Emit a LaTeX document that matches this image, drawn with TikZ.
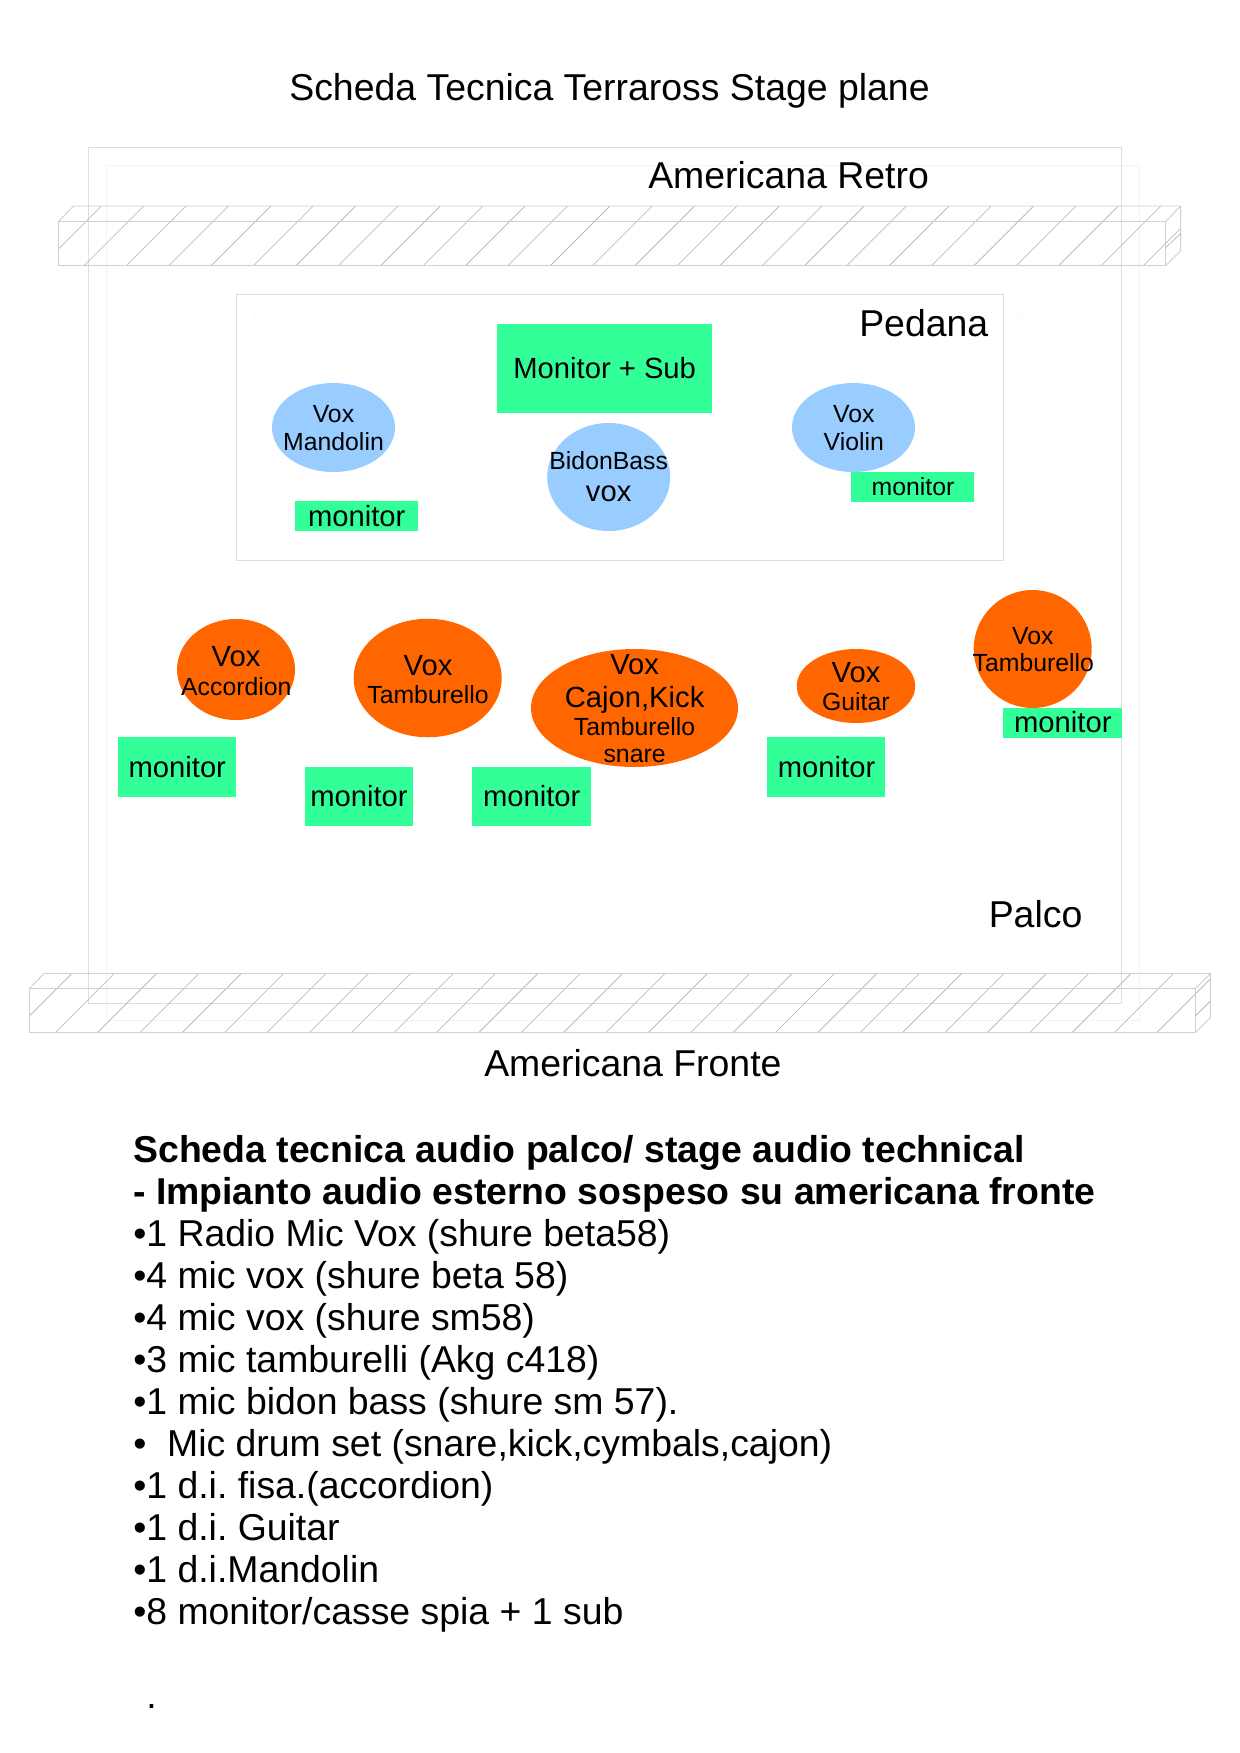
\documentclass[tikz,border=0pt]{standalone}
\usepackage{fontspec}
\setmainfont{Liberation Sans}
\usetikzlibrary{shapes.geometric}
\definecolor{greenbox}{HTML}{33FF99}
\definecolor{bluevox}{HTML}{99CCFF}
\definecolor{orangevox}{HTML}{FF6600}
\definecolor{frameline}{HTML}{DEDEDE}
\definecolor{frameshadow}{HTML}{F3F3F3}
\definecolor{pedshadow}{HTML}{FBFBFB}
\definecolor{barline}{HTML}{D0D0D0}
\definecolor{hatchline}{HTML}{B0B0B0}
\frenchspacing
\tikzset{
  big/.style={font=\fontsize{28.05}{31}\selectfont},
  mid/.style={font=\fontsize{21.9}{25}\selectfont},
  small/.style={font=\fontsize{18.6}{21}\selectfont},
  txt/.style={anchor=base,inner sep=0pt,text=black},
  ltxt/.style={anchor=base west,inner sep=0pt,text=black},
  sized/.style 2 args={minimum width=#1*0.75pt,minimum height=#2*0.75pt,inner sep=0pt,outer sep=0pt},
  greenblock/.style={rectangle,fill=greenbox,draw=none},
  bluevoice/.style={ellipse,fill=bluevox,draw=none},
  orangevoice/.style={ellipse,fill=orangevox,draw=none},
  outerframe/.style={draw=frameline,line width=0.75pt},
  shadowframe/.style={draw=frameshadow,line width=0.75pt},
  barface/.style={draw=barline,line width=0.7pt,line join=miter},
  hatching/.style={draw=hatchline,line width=0.45pt},
}
\newcommand{\barfigure}[7]{% left back-left right-front back-right top-back top-front bottom-front
  \begin{scope}
    \clip (#1,#7) -- (#1,#6) -- (#2,#5) -- (#4,#5) -- ({#4},{#7-15}) -- (#3,#7) -- cycle;
    \foreach \k in {-1,...,27}{
      \draw[hatching] ({\hatchstart+42.37*\k},#7) -- ({\hatchstart+42.37*\k+70},{#7-70});
    }
  \end{scope}
  \draw[barface] (#1,#6) rectangle (#3,#7);
  \draw[barface] (#1,#6) -- (#2,#5) -- (#4,#5) -- ({#4},{#7-15}) -- (#3,#7);
  \draw[barface] (#3,#6) -- (#4,#5);
}
\begin{document}
\frenchspacing
\begin{tikzpicture}[x=0.75pt,y=-0.75pt]
\useasboundingbox (0,0) rectangle (1239,1753);
\fill[white] (0,0) rectangle (1239,1753);

% stage frames
\draw[shadowframe] (106.3,165.3) rectangle (1139.7,1020.7);
\draw[outerframe] (88.3,147.3) rectangle (1121.7,1003.3);
\draw[draw=pedshadow,line width=0.75pt] (254,312) rectangle (1021.5,578);
\draw[outerframe] (236.3,294.3) rectangle (1003.7,560.3);

% trusses
\def\hatchstart{84.3}
\barfigure{58.5}{73.5}{1165.7}{1180.7}{206}{221.3}{265.5}
\draw[hatching] (1165.7,247.5) -- (1180.7,233.5);
\def\hatchstart{55}
\barfigure{29.3}{44}{1195.3}{1210.3}{973.5}{988.7}{1032.7}
\draw[hatching] (1195.3,1016) -- (1210.3,1001);

% pedana shapes
\node[greenblock,sized={215}{89}] (sub) at (604.5,368.5) {};
\node[bluevoice,sized={123}{89}] (mand) at (333.5,427.5) {};
\node[greenblock,sized={123}{30}] (mon1) at (356.5,516) {};
\node[bluevoice,sized={123}{108}] (bidon) at (608.7,477) {};
\node[bluevoice,sized={123}{89}] (viol) at (853.5,427.5) {};
\node[greenblock,sized={123}{30}] (mon2) at (912.5,487) {};

% stage shapes
\node[orangevoice,sized={118}{101}] (acc) at (236,669.5) {};
\node[orangevoice,sized={148}{118.5}] (tam) at (427.7,678) {};
\node[orangevoice,sized={207}{118}] (caj) at (634.5,708) {};
\node[orangevoice,sized={118.5}{74}] (gui) at (856,686) {};
\node[orangevoice,sized={118}{118}] (tamr) at (1032.7,649) {};
\node[greenblock,sized={118.5}{30}] (mon3) at (1062.5,723) {};
\node[greenblock,sized={118.5}{60}] (mon4) at (177,767) {};
\node[greenblock,sized={108}{59.5}] (mon5) at (359,796.7) {};
\node[greenblock,sized={119}{59.5}] (mon6) at (531.2,796.7) {};
\node[greenblock,sized={118.5}{60}] (mon7) at (826,767) {};

% labels
\node[txt,big] (title) at (609.5,100) {Scheda Tecnica Terraross Stage plane};
\node[ltxt,big] (retro) at (648,188) {Americana Retro};
\node[ltxt,big] (pedana) at (859,336.2) {Pedana};
\node[ltxt,big] (palco) at (988.5,927) {Palco};
\node[ltxt,big] (fronte) at (484,1076.3) {Americana Fronte};

\node[txt,mid] (subt) at (604.7,378.7) {Monitor + Sub};
\node[txt,small] (mand1) at (333.5,422) {Vox};
\node[txt,small] (mand2) at (333.5,450) {Mandolin};
\node[txt,mid] (mon1t) at (356.7,526) {monitor};
\node[txt,small] (bid1) at (608.7,469) {BidonBass};
\node[txt,mid] (bid2) at (608.7,501.2) {vox};
\node[txt,small] (viol1) at (853.8,422) {Vox};
\node[txt,small] (viol2) at (853.8,450) {Violin};
\node[txt,small] (mon2t) at (913,495) {monitor};

\node[txt,mid] (acc1) at (236,666.4) {Vox};
\node[txt,small] (acc2) at (236.3,695) {Accordion};
\node[txt,mid] (tam1) at (428,675) {Vox};
\node[txt,small] (tam2) at (428,703.7) {Tamburello};
\node[txt,mid] (caj1) at (634.6,674) {Vox};
\node[txt,mid] (caj2) at (634.6,707.2) {Cajon,Kick};
\node[txt,small] (caj3) at (634.6,735) {Tamburello};
\node[txt,small] (caj4) at (634.6,762.5) {snare};
\node[txt,mid] (gui1) at (856,682.4) {Vox};
\node[txt,small] (gui2) at (855.8,710.7) {Guitar};
\node[txt,small] (tamr1) at (1032.8,644) {Vox};
\node[txt,small] (tamr2) at (1033.3,671.9) {Tamburello};
\node[txt,mid] (mon3t) at (1062.8,732.7) {monitor};
\node[txt,mid] (mon4t) at (177.3,777) {monitor};
\node[txt,mid] (mon5t) at (359,806.7) {monitor};
\node[txt,mid] (mon6t) at (531.7,806.7) {monitor};
\node[txt,mid] (mon7t) at (826.6,777) {monitor};

% technical list
\node[ltxt,big] (l1) at (133,1162.2) {\bfseries Scheda tecnica audio palco/ stage audio technical};
\node[ltxt,big] (l2) at (133,1204) {\bfseries - Impianto audio esterno sospeso su americana fronte};
\node[ltxt,big] (l3) at (133,1246) {•1 Radio Mic Vox (shure beta58)};
\node[ltxt,big] (l4) at (133,1288) {•4 mic vox (shure beta 58)};
\node[ltxt,big] (l5) at (133,1330) {•4 mic vox (shure sm58)};
\node[ltxt,big] (l6) at (133,1372) {•3 mic tamburelli (Akg c418)};
\node[ltxt,big] (l7) at (133,1414) {•1 mic bidon bass (shure sm 57).};
\node[ltxt,big] (l8) at (133,1456) {•\ \ Mic drum set (snare,kick,cymbals,cajon)};
\node[ltxt,big] (l9) at (133,1498) {•1 d.i. fisa.(accordion)};
\node[ltxt,big] (l10) at (133,1540) {•1 d.i. Guitar};
\node[ltxt,big] (l11) at (133,1582) {•1 d.i.Mandolin};
\node[ltxt,big] (l12) at (133,1624) {•8 monitor/casse spia + 1 sub};
\node[ltxt,big] (l13) at (146,1708) {.};
\end{tikzpicture}
\end{document}
